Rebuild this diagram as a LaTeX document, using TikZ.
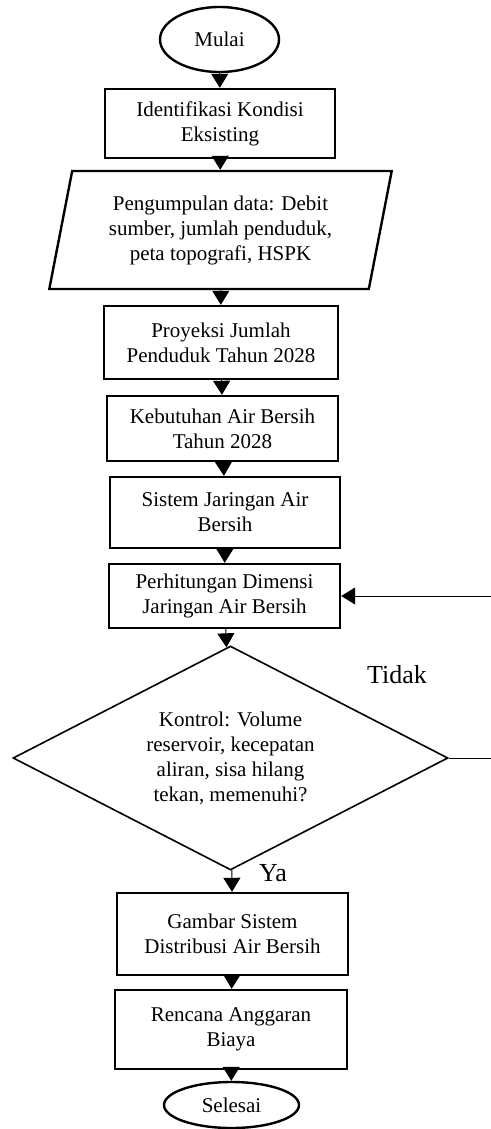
\documentclass[tikz,border=0pt]{standalone}
\usepackage{fontspec}
\setmainfont{Liberation Serif}
\usepackage{tikz}
\usetikzlibrary{shapes.geometric}
\usetikzlibrary{arrows.meta}

\begin{document}
\begin{tikzpicture}[x=0.5pt,y=-0.5pt,
  txt/.style={font=\fontsize{10.5}{12.5}\selectfont,align=center},
  kotak/.style={txt,draw,line width=1.2pt,rectangle,inner sep=0pt},
  oval/.style={txt,draw,line width=1.2pt,ellipse,inner sep=0pt},
  arr/.style={line width=0.5pt,-{Triangle[width=8.5pt,length=7pt]}}]
 \useasboundingbox (0,0) rectangle (491,1129);
 
 \node[oval,minimum width=59.5pt,minimum height=32.5pt] (mulai) at (219.5,39.5) {Mulai};
 \node[kotak,minimum width=115pt,minimum height=34.5pt] (ident) at (220,123.5) {Identifikasi Kondisi\\Eksisting};
 \node[txt,draw,line width=1.2pt,trapezium,trapezium left angle=76,trapezium right angle=104,
   trapezium stretches=true,minimum width=171.5pt,minimum height=59pt,inner sep=0pt] (data) at (220.5,230)
   {Pengumpulan data: Debit\\sumber, jumlah penduduk,\\peta topografi, HSPK};
 \node[kotak,minimum width=117pt,minimum height=36.5pt] (proy) at (221,342.5) {Proyeksi Jumlah\\Penduduk Tahun 2028};
 \node[kotak,minimum width=115.5pt,minimum height=32.5pt] (kebut) at (222.5,428.5) {Kebutuhan Air Bersih\\Tahun 2028};
 \node[kotak,minimum width=115pt,minimum height=35.5pt] (sistem) at (225,512.5) {Sistem Jaringan Air\\Bersih};
 \node[kotak,minimum width=115.5pt,minimum height=32pt] (hitung) at (224.5,596) {Perhitungan Dimensi\\Jaringan Air Bersih};
 \node[txt,draw,line width=0.8pt,diamond,aspect=2,inner sep=0pt,minimum width=217.5pt,minimum height=112pt] (kontrol) at (230.5,758)
   {Kontrol: Volume\\reservoir, kecepatan\\aliran, sisa hilang\\tekan, memenuhi?};
 \node[kotak,minimum width=115.5pt,minimum height=41pt] (gambar) at (232.5,934) {Gambar Sistem\\Distribusi Air Bersih};
 \node[kotak,minimum width=116pt,minimum height=39.5pt] (rab) at (231,1029.5) {Rencana Anggaran\\Biaya};
 \node[oval,minimum width=67.5pt,minimum height=23pt] (selesai) at (231.5,1105) {Selesai};
 
 \node[font=\fontsize{13}{15}\selectfont] (tidak) at (397,675) {Tidak};
 \node[font=\fontsize{13}{15}\selectfont] (ya) at (273,873) {Ya};
 %%%%%%%%%%%%%%%%%%%%%%%%%%%%%%%%%%%
 \draw[arr] (mulai) -- (ident);
 \draw[arr] (ident) -- (data);
 \draw[arr] (data) -- (proy);
 \draw[arr] (proy) -- (kebut);
 \draw[arr] (kebut) -- (sistem);
 \draw[arr] (sistem) -- (hitung);
 \draw[arr] (hitung) -- (kontrol);
 \draw[arr] (kontrol) -- (gambar);
 \draw[arr] (gambar) -- (rab);
 \draw[arr] (rab) -- (selesai);
 
 \coordinate (balik) at (500,758);
 \draw[arr] (kontrol.east) -- (balik) |- (hitung.east);
\end{tikzpicture}
\end{document}
